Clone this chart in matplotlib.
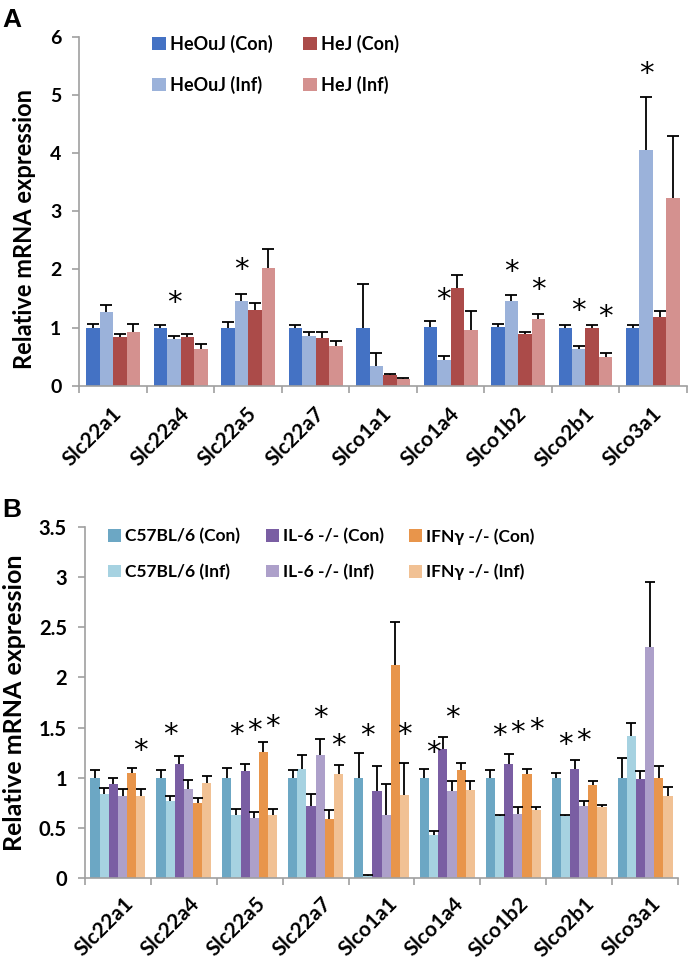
import numpy as np
import matplotlib
matplotlib.use('Agg')
import matplotlib.pyplot as plt
from matplotlib.transforms import ScaledTranslation

plt.rcParams['font.family'] = ['Lato', 'DejaVu Sans']
plt.rcParams['font.weight'] = 'bold'

genes = ['Slc22a1', 'Slc22a4', 'Slc22a5', 'Slc22a7', 'Slco1a1',
         'Slco1a4', 'Slco1b2', 'Slco2b1', 'Slco3a1']

# panel A
a_labels = ['HeOuJ (Con)', 'HeOuJ (Inf)', 'HeJ (Con)', 'HeJ (Inf)']
a_colors = ['#4472C4', '#9BB2DA', '#AB4B49', '#D4918F']
heouj_con = [1.00, 1.00, 1.00, 1.00, 1.00, 1.01, 1.01, 1.00, 1.00]
heouj_con_err = [0.06, 0.05, 0.09, 0.05, 0.75, 0.11, 0.05, 0.05, 0.04]
heouj_inf = [1.27, 0.80, 1.46, 0.86, 0.34, 0.44, 1.45, 0.64, 4.06]
heouj_inf_err = [0.12, 0.06, 0.12, 0.07, 0.23, 0.07, 0.11, 0.04, 0.91]
hej_con = [0.84, 0.84, 1.30, 0.83, 0.19, 1.69, 0.90, 0.99, 1.19]
hej_con_err = [0.06, 0.05, 0.12, 0.10, 0.02, 0.21, 0.02, 0.05, 0.09]
hej_inf = [0.93, 0.64, 2.02, 0.69, 0.12, 0.96, 1.15, 0.50, 3.22]
hej_inf_err = [0.13, 0.08, 0.33, 0.09, 0.02, 0.32, 0.09, 0.07, 1.07]
# (gene index, series index, star height)
a_stars = [(1, 1, 1.42), (2, 1, 1.99), (5, 1, 1.47), (6, 1, 1.96), (6, 3, 1.65),
           (7, 1, 1.29), (7, 3, 1.18), (8, 1, 5.36)]

# panel B
b_labels = ['C57BL/6 (Con)', 'C57BL/6 (Inf)', 'IL-6 -/- (Con)', 'IL-6 -/- (Inf)',
            'IFNγ -/- (Con)', 'IFNγ -/- (Inf)']
b_colors = ['#6CA7C4', '#A6D2E1', '#7A5EA3', '#ADA0CA', '#E8954B', '#F1C194']
c57_con = [1.00, 1.00, 1.00, 1.00, 1.00, 1.00, 1.00, 1.00, 1.00]
c57_con_err = [0.08, 0.08, 0.10, 0.08, 0.25, 0.09, 0.08, 0.05, 0.20]
c57_inf = [0.84, 0.77, 0.63, 1.09, 0.02, 0.43, 0.62, 0.62, 1.42]
c57_inf_err = [0.06, 0.05, 0.06, 0.14, 0.01, 0.04, 0.01, 0.01, 0.13]
il6_con = [0.94, 1.14, 1.07, 0.72, 0.87, 1.29, 1.14, 1.09, 0.99]
il6_con_err = [0.06, 0.08, 0.07, 0.12, 0.25, 0.12, 0.10, 0.09, 0.08]
il6_inf = [0.82, 0.89, 0.60, 1.23, 0.63, 0.87, 0.64, 0.72, 2.30]
il6_inf_err = [0.07, 0.09, 0.06, 0.16, 0.31, 0.10, 0.07, 0.05, 0.65]
ifn_con = [1.05, 0.75, 1.26, 0.59, 2.12, 1.08, 1.04, 0.93, 1.00]
ifn_con_err = [0.05, 0.05, 0.10, 0.09, 0.43, 0.07, 0.05, 0.04, 0.12]
ifn_inf = [0.82, 0.95, 0.63, 1.04, 0.83, 0.88, 0.68, 0.71, 0.82]
ifn_inf_err = [0.07, 0.07, 0.06, 0.09, 0.32, 0.09, 0.03, 0.02, 0.09]
b_stars = [(0, 5, 1.27), (1, 1, 1.43), (2, 1, 1.43), (2, 3, 1.47), (2, 5, 1.51),
           (3, 3, 1.60), (3, 5, 1.32), (4, 1, 1.42), (4, 5, 1.43),
           (5, 1, 1.25), (5, 3, 1.60), (6, 1, 1.42), (6, 3, 1.45), (6, 5, 1.48),
           (7, 1, 1.33), (7, 3, 1.37)]

GRAY = '#A0A0A0'
fig = plt.figure(figsize=(6.9, 9.6), dpi=100)


def panel(ax, series, errs, labels, colors, stars, width, capsize, ymax, ystep,
          tick_fs, xlab_fs, ylab_fs, lab_dx, lab_dy, ylab_xy):
    x = np.arange(len(genes))
    n = len(series)
    offs = (np.arange(n) - (n - 1) / 2) * width
    for vals, err, lab, col, off in zip(series, errs, labels, colors, offs):
        vals = np.array(vals)
        ax.bar(x + off, vals, width, color=col, label=lab, zorder=2)
        eb = ax.errorbar(x + off, vals, yerr=[np.zeros(len(vals)), err], fmt='none',
                         ecolor='black', elinewidth=1.3, capsize=capsize,
                         capthick=1.3, zorder=3)
        for cl in eb[1]:
            if np.allclose(cl.get_ydata(), vals):
                cl.set_visible(False)
    for gi, si, yy in stars:
        ax.text(x[gi] + offs[si], yy, '*', ha='center', va='center',
                fontsize=21, fontweight='normal', family='DejaVu Sans')
    ax.set_xlim(-0.5, len(genes) - 0.5)
    ax.set_ylim(0, ymax)
    yt = np.arange(0, ymax + 1e-9, ystep)
    ax.set_yticks(yt)
    ax.set_yticklabels(['%g' % v for v in yt], fontsize=tick_fs, fontweight='bold')
    ax.set_xticks(np.arange(len(genes) + 1) - 0.5, minor=True)
    ax.tick_params(axis='x', which='minor', length=5, color=GRAY, width=1.2)
    ax.tick_params(axis='y', length=5, color=GRAY, width=1.2, pad=8)
    ax.tick_params(axis='x', which='major', length=0, pad=0)
    ax.set_xticks(x)
    ax.set_xticklabels(genes, rotation=45, ha='right', va='center',
                       rotation_mode='anchor', fontsize=xlab_fs, fontweight='bold')
    off = ScaledTranslation(lab_dx / 72, lab_dy / 72, fig.dpi_scale_trans)
    for t in ax.xaxis.get_majorticklabels():
        t.set_transform(t.get_transform() + off)
    ax.set_ylabel('Relative mRNA expression', fontsize=ylab_fs, fontweight='bold')
    ax.yaxis.set_label_coords(*ylab_xy)
    for s in ['top', 'right']:
        ax.spines[s].set_visible(False)
    for s in ['left', 'bottom']:
        ax.spines[s].set_color(GRAY)
        ax.spines[s].set_linewidth(1.2)


ax_a = fig.add_axes([0.1152, 0.598, 0.880, 0.3639])
panel(ax_a, [heouj_con, heouj_inf, hej_con, hej_inf],
      [heouj_con_err, heouj_inf_err, hej_con_err, hej_inf_err],
      a_labels, a_colors, a_stars, 0.2, 4.5, 6, 1, 14, 15, 17, 4, -18, (-0.072, 0.45))
ax_a.legend(ncol=2, frameon=False, loc='upper left', bbox_to_anchor=(152 / 690, 1 - 35 / 960),
            bbox_transform=fig.transFigure, fontsize=13, handlelength=0.75,
            handleheight=0.75, handletextpad=0.25, columnspacing=1.7,
            labelspacing=1.25, borderpad=0, borderaxespad=0)

ax_b = fig.add_axes([0.1232, 0.0851, 0.8594, 0.3663])
panel(ax_b, [c57_con, c57_inf, il6_con, il6_inf, ifn_con, ifn_inf],
      [c57_con_err, c57_inf_err, il6_con_err, il6_inf_err, ifn_con_err, ifn_inf_err],
      b_labels, b_colors, b_stars, 0.139, 3.6, 3.5, 0.5, 14.5, 15, 18, 9, -16, (-0.1, 0.5))
ax_b.legend(ncol=3, frameon=False, loc='upper left', bbox_to_anchor=(108 / 690, 1 - 528 / 960),
            bbox_transform=fig.transFigure, fontsize=12.5, handlelength=0.75,
            handleheight=0.75, handletextpad=0.25, columnspacing=1.45,
            labelspacing=1.1, borderpad=0, borderaxespad=0)

fig.text(2 / 690, 1 - 8 / 960, 'A', fontsize=19, fontweight='bold',
         family='Liberation Sans', ha='left', va='top')
fig.text(2 / 690, 1 - 498 / 960, 'B', fontsize=19, fontweight='bold',
         family='Liberation Sans', ha='left', va='top')

fig.savefig('out.png', dpi=100)
